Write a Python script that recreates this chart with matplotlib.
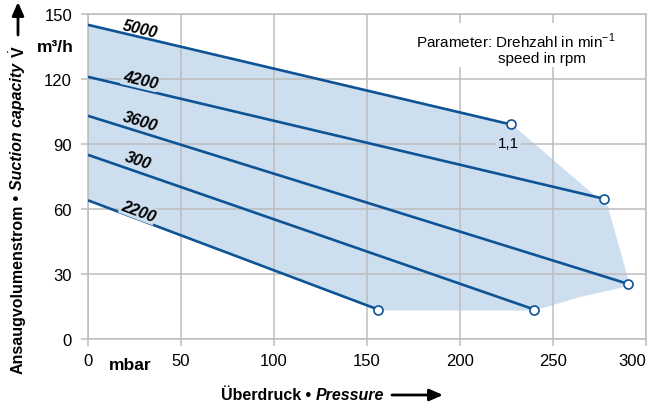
import matplotlib
matplotlib.use("Agg")
import matplotlib.pyplot as plt
from matplotlib.patches import Rectangle

plt.rcParams['font.family'] = ['Liberation Sans', 'DejaVu Sans']
plt.rcParams['mathtext.fontset'] = 'custom'
plt.rcParams['mathtext.rm'] = 'Liberation Sans'
plt.rcParams['mathtext.bf'] = 'Liberation Sans:bold'

# ---- data ----
speeds = ["5000", "4200", "3600", "300", "2200"]
p_start = [0, 0, 0, 0, 0]
q_start = [145, 121, 103, 85, 64]
p_end = [227.5, 277.5, 290.5, 240, 156]
q_end = [99, 64.7, 25.4, 13.6, 13.6]

env_p = [0, 228, 279.5, 290, 291, 265, 240, 156, 0]
env_q = [145, 99, 61, 29, 24.5, 19.5, 13.1, 13.1, 64]

label_p = [28, 28, 28, 27, 27]
label_q = [143, 119.5, 100.5, 82.5, 59]
label_rot = [-13.2, -13.3, -17.3, -19.0, -20.6]

x_ticks = [0, 50, 100, 150, 200, 250, 300]
y_ticks = [0, 30, 60, 90, 120, 150]

LINE = '#0d5396'
FILL = '#cddfee'
GRID = '#bdbdbd'

W, H = 657, 410
def fx(px): return px / W
def fy(py): return 1 - py / H

fig = plt.figure(figsize=(6.57, 4.10), dpi=100)
ax = fig.add_axes([fx(88), fy(340), (646 - 88) / W, (340 - 15) / H])
ax.set_xlim(0, 300)
ax.set_ylim(0, 150)

ax.fill(env_p, env_q, color=FILL, lw=0, zorder=1)

for i in range(len(speeds)):
    ax.plot([p_start[i], p_end[i]], [q_start[i], q_end[i]], color=LINE, lw=1.9,
            zorder=3, solid_capstyle='butt')
    ax.plot(p_end[i], q_end[i], 'o', ms=6.5, mfc='white', mec=LINE, mew=1.2,
            zorder=4, clip_on=False)
    bb = None if i == 0 else dict(boxstyle='square,pad=0.05', fc=FILL, ec='none')
    ax.text(label_p[i], label_q[i], speeds[i], rotation=label_rot[i],
            rotation_mode='anchor', ha='center', va='center', fontsize=11.5,
            fontweight='bold', fontstyle='italic', zorder=3.5, bbox=bb)

ax.text(226, 90.5, "1,1", ha='center', va='center', fontsize=11, zorder=3.5,
        bbox=dict(boxstyle='square,pad=0.15', fc=FILL, ec='none'))

ax.set_xticks(x_ticks)
ax.set_yticks(y_ticks)
ax.set_xticklabels([str(v) for v in x_ticks])
ax.set_yticklabels([str(v) for v in y_ticks])
ax.get_xticklabels()[-1].set_horizontalalignment('right')
ax.tick_params(length=5, width=1.1, color=GRID, labelsize=12, pad=5)
ax.tick_params(axis='y', pad=6.5)
ax.grid(color=GRID, lw=1.1)
for s in ax.spines.values():
    s.set_color(GRID)
    s.set_linewidth(1.1)

ax.text(22.6, -0.077, "mbar", transform=ax.get_xaxis_transform(), ha='center',
        va='center', fontsize=12.5, fontweight='bold')
ax.text(fx(74), fy(47), "m³/h", transform=fig.transFigure, ha='right', va='center',
        fontsize=12.5, fontweight='bold')

# parameter note
ax.add_patch(Rectangle((fx(410), fy(68)), fx(620) - fx(410), fy(24) - fy(68),
                       transform=fig.transFigure, fc='white', ec='none', zorder=4.5))
ax.text(fx(416), fy(41), "Parameter: Drehzahl in min$^{-1}$", transform=fig.transFigure,
        ha='left', va='center', fontsize=11, zorder=6)
ax.text(fx(498), fy(59), "speed in rpm", transform=fig.transFigure,
        ha='left', va='center', fontsize=11, zorder=6)

# y label
prev = fig.text(fx(18), fy(374), "Ansaugvolumenstrom", rotation=90, ha='center',
                va='bottom', fontsize=11.5, fontweight='bold')
parts_y = [(" • ", 'normal'), ("Suction capacity ", 'italic'), (r"$\dot{\mathbf{V}}$", 'normal')]
for s, st in parts_y:
    prev = ax.annotate(s, xy=(0.5, 1), xycoords=prev, rotation=90, ha='center',
                       va='bottom', fontsize=11.5, fontweight='bold', fontstyle=st,
                       annotation_clip=False)
ax.annotate("", xy=(fx(18), fy(3)), xytext=(fx(18), fy(36)), xycoords='figure fraction',
            textcoords='figure fraction',
            arrowprops=dict(arrowstyle='-|>,head_length=0.8,head_width=0.35',
                            color='black', lw=2, shrinkA=0, shrinkB=0))

# x label
prev = fig.text(fx(221), fy(396), "Überdruck", ha='left', va='center', fontsize=11.5,
                fontweight='bold')
for s, st in [(" • ", 'normal'), ("Pressure", 'italic')]:
    prev = ax.annotate(s, xy=(1, 0.5), xycoords=prev, ha='left', va='center',
                       fontsize=11.5, fontweight='bold', fontstyle=st,
                       annotation_clip=False)
ax.annotate("", xy=(fx(443), fy(396)), xytext=(fx(392), fy(396)),
            xycoords='figure fraction', textcoords='figure fraction',
            arrowprops=dict(arrowstyle='-|>,head_length=0.8,head_width=0.35',
                            color='black', lw=2, shrinkA=0, shrinkB=0))

fig.savefig("out.png", dpi=100)
